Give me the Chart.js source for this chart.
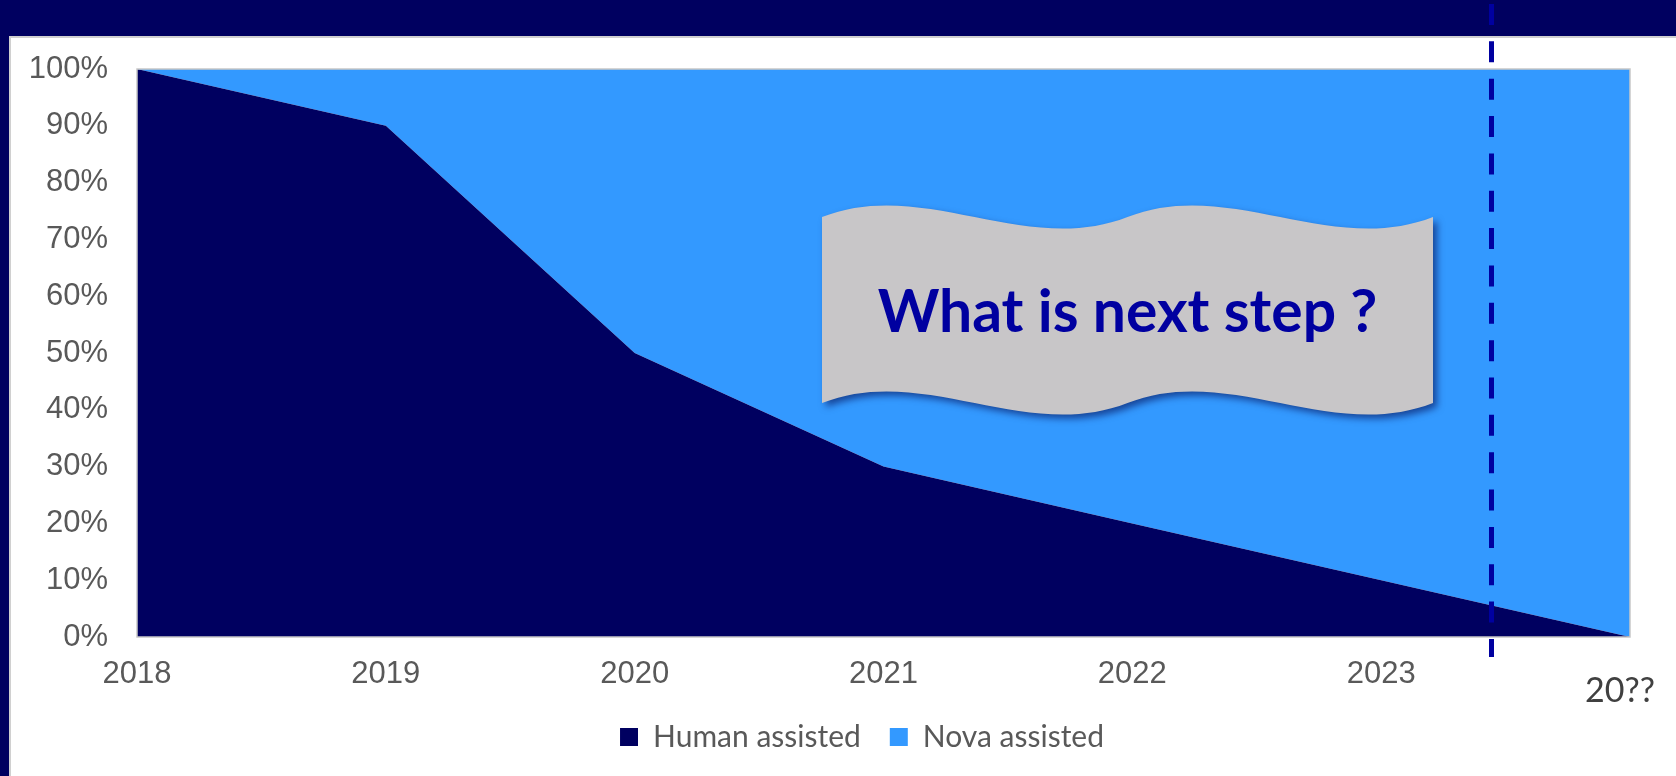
<!DOCTYPE html>
<html>
<head>
<meta charset="utf-8">
<script src="https://cdn.jsdelivr.net/npm/chart.js@4.4.1/dist/chart.umd.min.js"></script>
<style>
html,body{margin:0;padding:0;background:#000060;overflow:hidden}
#wrap{width:1676px;height:776px;position:relative}
canvas{display:block}
</style>
</head>
<body>
<div id="wrap"><canvas id="c" width="1676" height="776"></canvas></div>
<script>
// ---- data ----
const categories = ['2018', '2019', '2020', '2021', '2022', '2023', '20??'];
const humanAssisted = [100, 90, 50, 30, 20, 10, 0];
const novaAssisted = [0, 10, 50, 70, 80, 90, 100];
const seriesNames = ['Human assisted', 'Nova assisted'];
const yTickSuffix = '%';
const calloutText = 'What is next step ?';
const dividerAt = 5.44;   // position of the dashed "today" line, in category-index units

// ---- styles ----
const NAVY = '#000060';
const BLUE = '#3399FF';
const TICK_COLOR = '#595959';

const backgroundPlugin = {
  id: 'bgPanel',
  afterLayout(chart) {
    // nudge the legend to where the original places it
    const lg = chart.legend;
    if (lg) {
      lg.left += 33; lg.right += 33;
    }
  },
  beforeDraw(chart) {
    const ctx = chart.ctx;
    ctx.save();
    ctx.fillStyle = NAVY;
    ctx.fillRect(0, 0, chart.width, chart.height);
    ctx.fillStyle = '#FFFFFF';
    ctx.fillRect(10, 37, chart.width - 10, chart.height - 37);
    ctx.strokeStyle = '#D0D0D0';
    ctx.lineWidth = 2;
    ctx.beginPath();
    ctx.moveTo(10, chart.height);
    ctx.lineTo(10, 37);
    ctx.lineTo(chart.width, 37);
    ctx.stroke();
    ctx.restore();
  }
};

const decorPlugin = {
  id: 'decor',
  afterDatasetsDraw(chart) {
    const ctx = chart.ctx;
    const a = chart.chartArea;
    ctx.save();
    ctx.strokeStyle = '#C8C8C8';
    ctx.lineWidth = 1.5;
    ctx.strokeRect(a.left, a.top, a.right - a.left, a.bottom - a.top);
    ctx.restore();
  },
  afterDraw(chart) {
    const ctx = chart.ctx;
    const xs = chart.scales.x;
    const a = chart.chartArea;

    // last category label, drawn offset like the original text box
    ctx.save();
    ctx.fillStyle = '#404040';
    ctx.font = '34px Lato';
    ctx.textAlign = 'center';
    ctx.textBaseline = 'middle';
    ctx.fillText(categories[categories.length - 1], xs.getPixelForValue(categories.length - 1) - 10, 691);
    ctx.restore();

    // wavy callout banner
    const L = 822, R = 1433, T = 217, B = 403, h = 40;
    const s = (R - L) / 2;
    ctx.save();
    ctx.beginPath();
    ctx.moveTo(L, T);
    ctx.bezierCurveTo(L + s / 3, T - h, L + 2 * s / 3, T + h, L + s, T);
    ctx.bezierCurveTo(L + s + s / 3, T - h, L + s + 2 * s / 3, T + h, R, T);
    ctx.lineTo(R, B);
    ctx.bezierCurveTo(R - s / 3, B + h, R - 2 * s / 3, B - h, R - s, B);
    ctx.bezierCurveTo(R - s - s / 3, B + h, R - s - 2 * s / 3, B - h, L, B);
    ctx.closePath();
    ctx.shadowColor = 'rgba(0,0,70,0.55)';
    ctx.shadowBlur = 7;
    ctx.shadowOffsetX = 4;
    ctx.shadowOffsetY = 4;
    ctx.fillStyle = '#C8C6C8';
    ctx.fill();
    ctx.restore();

    ctx.save();
    let size = 60;
    ctx.font = 'bold ' + size + 'px Lato';
    const w = ctx.measureText(calloutText).width;
    size = size * 500 / w;
    ctx.font = 'bold ' + size.toFixed(1) + 'px Lato';
    ctx.fillStyle = '#0000A0';
    ctx.textAlign = 'center';
    ctx.textBaseline = 'alphabetic';
    ctx.fillText(calloutText, (L + R) / 2, 332);
    ctx.restore();

    // dashed vertical divider
    const dx = Math.round(xs.getPixelForValue(dividerAt)) + 0.5;
    ctx.save();
    ctx.strokeStyle = '#0000A0';
    ctx.lineWidth = 5;
    ctx.setLineDash([21, 16.35]);
    ctx.beginPath();
    ctx.moveTo(dx, 4);
    ctx.lineTo(dx, a.bottom + 20);
    ctx.stroke();
    ctx.restore();
  }
};

new Chart(document.getElementById('c'), {
  type: 'line',
  data: {
    labels: categories,
    datasets: [
      {
        label: seriesNames[0],
        data: humanAssisted,
        fill: 'origin',
        backgroundColor: NAVY,
        borderColor: 'rgba(0,0,0,0)',
        borderWidth: 0,
        pointRadius: 0,
        tension: 0
      },
      {
        label: seriesNames[1],
        data: novaAssisted,
        fill: '-1',
        backgroundColor: BLUE,
        borderColor: 'rgba(0,0,0,0)',
        borderWidth: 0,
        pointRadius: 0,
        tension: 0
      }
    ]
  },
  options: {
    responsive: false,
    animation: false,
    devicePixelRatio: 1,
    layout: { padding: { left: 28, right: 46, top: 69, bottom: 14 } },
    plugins: {
      tooltip: { enabled: false },
      legend: {
        position: 'bottom',
        labels: {
          font: { family: 'Lato', size: 30 },
          color: TICK_COLOR,
          boxWidth: 18,
          boxHeight: 18,
          padding: 29
        }
      }
    },
    scales: {
      x: {
        grid: { display: false, drawTicks: false },
        border: { display: false },
        ticks: {
          autoSkip: false,
          maxRotation: 0,
          padding: 19,
          color: TICK_COLOR,
          font: { family: 'Liberation Sans', size: 31 },
          callback: (v, i) => (i === categories.length - 1 ? '' : categories[i])
        },
        afterFit: (scale) => { scale.height = 56; }
      },
      y: {
        stacked: true,
        min: 0,
        max: 100,
        grid: { display: false, drawTicks: false },
        border: { display: false },
        ticks: {
          stepSize: 10,
          padding: 29,
          color: TICK_COLOR,
          font: { family: 'Liberation Sans', size: 31 },
          callback: (v) => v + yTickSuffix
        },
        afterFit: (scale) => { scale.width = 109; }
      }
    }
  },
  plugins: [backgroundPlugin, decorPlugin]
});
</script>
</body>
</html>
